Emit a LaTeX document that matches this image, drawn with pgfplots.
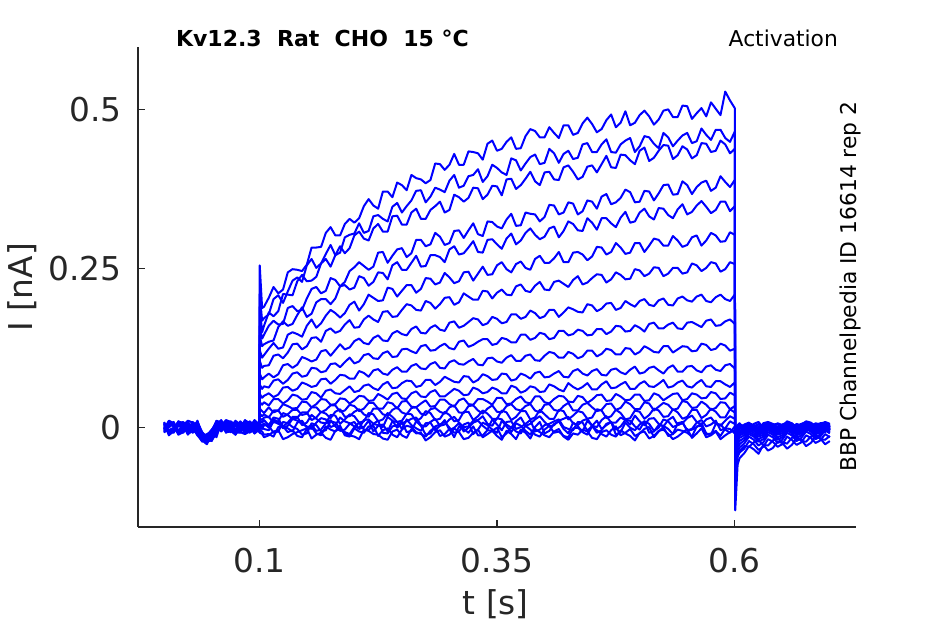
\documentclass[border=0pt]{standalone}
\usepackage{pgfplots}
\pgfplotsset{compat=1.18}
\usepackage{fontspec}
\setmainfont{DejaVu Sans}
\definecolor{cgray}{RGB}{38,38,38}
\begin{document}
\begin{tikzpicture}[x=1pt,y=1pt]
\useasboundingbox (0,0) rectangle (472.5,312);
\begin{axis}[
  at={(69pt,48.5pt)}, anchor=south west, scale only axis,
  width=359pt, height=240pt,
  xmin=-0.0275, xmax=0.7275, ymin=-0.156, ymax=0.598,
  axis x line*=bottom, axis y line*=left,
  axis line style={-, draw=cgray, line width=0.65pt},
  xtick={0.1,0.35,0.6}, xticklabels={0.1,0.35,0.6},
  ytick={0,0.25,0.5}, yticklabels={0,0.25,0.5},
  tick align=inside, major tick length=3.5pt,
  tick style={draw=cgray, line width=0.65pt},
  ticklabel style={font=\fontsize{16.4}{19}\selectfont, text=cgray, inner sep=0pt},
  xticklabel style={anchor=base, yshift=-23pt},
  yticklabel style={anchor=east, xshift=-8pt},
  tr/.style={color={rgb,255:red,0;green,0;blue,255}, line width=1pt, line join=round},
]
% T20
\addplot[tr] coordinates {(0,0.003)(0.005,-0.009)(0.01,-0.004)(0.015,0.010)(0.02,0.006)(0.025,-0.006)(0.03,-0.002)(0.035,0.007)(0.04,-0.018)(0.045,-0.014)(0.05,-0.006)(0.055,0.011)(0.06,0.008)(0.065,-0.005)(0.07,-0.003)(0.075,0.009)(0.08,0.005)(0.085,-0.010)(0.09,-0.006)(0.095,0.006)(0.1,0.002)
(0.1005,0.255)(0.103,0.188)(0.105,0.190)
(0.11,0.204)(0.115,0.221)(0.12,0.211)(0.125,0.217)(0.13,0.244)(0.135,0.249)(0.14,0.248)(0.145,0.246)(0.15,0.256)(0.155,0.283)(0.16,0.283)(0.165,0.284)(0.17,0.306)(0.175,0.315)(0.18,0.302)(0.185,0.302)(0.19,0.320)(0.195,0.328)(0.2,0.322)(0.205,0.329)
(0.21,0.348)(0.215,0.359)(0.22,0.349)(0.225,0.344)(0.23,0.371)(0.235,0.371)(0.24,0.362)(0.245,0.385)(0.25,0.381)(0.255,0.373)(0.26,0.397)(0.265,0.392)(0.27,0.390)(0.275,0.384)(0.28,0.389)(0.285,0.415)(0.29,0.414)(0.295,0.405)(0.3,0.413)(0.305,0.430)
(0.31,0.413)(0.315,0.413)(0.32,0.434)(0.325,0.433)(0.33,0.431)(0.335,0.421)(0.34,0.446)(0.345,0.451)(0.35,0.435)(0.355,0.438)(0.36,0.449)(0.365,0.456)(0.37,0.438)(0.375,0.439)(0.38,0.458)(0.385,0.469)(0.39,0.466)(0.395,0.456)(0.4,0.456)(0.405,0.472)
(0.41,0.463)(0.415,0.455)(0.42,0.475)(0.425,0.475)(0.43,0.460)(0.435,0.463)(0.44,0.478)(0.445,0.487)(0.45,0.477)(0.455,0.464)(0.46,0.469)(0.465,0.483)(0.47,0.492)(0.475,0.472)(0.48,0.479)(0.485,0.497)(0.49,0.475)(0.495,0.479)(0.5,0.491)(0.505,0.498)
(0.51,0.489)(0.515,0.476)(0.52,0.484)(0.525,0.498)(0.53,0.500)(0.535,0.488)(0.54,0.488)(0.545,0.506)(0.55,0.505)(0.555,0.485)(0.56,0.494)(0.565,0.502)(0.57,0.489)(0.575,0.511)(0.58,0.501)(0.585,0.491)(0.59,0.528)(0.595,0.514)(0.6,0.502)
(0.6005,-0.130)(0.603,-0.058)(0.605,-0.048)
(0.61,-0.040)(0.615,-0.029)(0.62,-0.034)(0.625,-0.041)(0.63,-0.027)(0.635,-0.036)(0.64,-0.032)(0.645,-0.022)(0.65,-0.024)(0.655,-0.033)(0.66,-0.027)(0.665,-0.017)(0.67,-0.019)(0.675,-0.029)(0.68,-0.024)(0.685,-0.014)(0.69,-0.017)(0.695,-0.026)(0.7,-0.021)};
% T19
\addplot[tr] coordinates {(0,-0.005)(0.005,0.008)(0.01,0.004)(0.015,-0.011)(0.02,-0.007)(0.025,0.004)(0.03,0.006)(0.035,-0.008)(0.04,-0.012)(0.045,-0.022)(0.05,-0.020)(0.055,-0.004)(0.06,0.003)(0.065,0.012)(0.07,0.009)(0.075,-0.006)(0.08,-0.004)(0.085,0.010)(0.09,0.007)(0.095,-0.009)(0.1,-0.003)
(0.1005,0.210)(0.103,0.168)(0.105,0.172)
(0.11,0.178)(0.115,0.202)(0.12,0.208)(0.125,0.196)(0.13,0.214)(0.135,0.231)(0.14,0.236)(0.145,0.229)(0.15,0.255)(0.155,0.265)(0.16,0.251)(0.165,0.258)(0.17,0.273)(0.175,0.287)(0.18,0.271)(0.185,0.275)(0.19,0.299)(0.195,0.303)(0.2,0.305)(0.205,0.321)
(0.21,0.306)(0.215,0.309)(0.22,0.332)(0.225,0.334)(0.23,0.328)(0.235,0.324)(0.24,0.347)(0.245,0.353)(0.25,0.338)(0.255,0.348)(0.26,0.357)(0.265,0.372)(0.27,0.373)(0.275,0.354)(0.28,0.363)(0.285,0.377)(0.29,0.374)(0.295,0.370)(0.3,0.388)(0.305,0.397)
(0.31,0.377)(0.315,0.380)(0.32,0.395)(0.325,0.397)(0.33,0.406)(0.335,0.386)(0.34,0.395)(0.345,0.413)(0.35,0.408)(0.355,0.401)(0.36,0.397)(0.365,0.423)(0.37,0.420)(0.375,0.404)(0.38,0.415)(0.385,0.425)(0.39,0.429)(0.395,0.414)(0.4,0.416)(0.405,0.438)
(0.41,0.431)(0.415,0.416)(0.42,0.430)(0.425,0.435)(0.43,0.422)(0.435,0.424)(0.44,0.445)(0.445,0.447)(0.45,0.433)(0.455,0.433)(0.46,0.445)(0.465,0.453)(0.47,0.433)(0.475,0.432)(0.48,0.445)(0.485,0.451)(0.49,0.455)(0.495,0.433)(0.5,0.442)(0.505,0.458)
(0.51,0.456)(0.515,0.446)(0.52,0.439)(0.525,0.463)(0.53,0.456)(0.535,0.442)(0.54,0.451)(0.545,0.459)(0.55,0.463)(0.555,0.447)(0.56,0.450)(0.565,0.470)(0.57,0.460)(0.575,0.452)(0.58,0.468)(0.585,0.468)(0.59,0.455)(0.595,0.449)(0.6,0.465)
(0.6005,-0.072)(0.603,-0.046)(0.605,-0.039)
(0.61,-0.033)(0.615,-0.021)(0.62,-0.026)(0.625,-0.035)(0.63,-0.030)(0.635,-0.018)(0.64,-0.022)(0.645,-0.030)(0.65,-0.026)(0.655,-0.014)(0.66,-0.019)(0.665,-0.027)(0.67,-0.023)(0.675,-0.012)(0.68,-0.016)(0.685,-0.024)(0.69,-0.020)(0.695,-0.010)(0.7,-0.015)};
% T18
\addplot[tr] coordinates {(0,0.006)(0.005,-0.010)(0.01,-0.002)(0.015,0.005)(0.02,0.009)(0.025,-0.004)(0.03,-0.006)(0.035,0.011)(0.04,-0.015)(0.045,-0.019)(0.05,-0.009)(0.055,0.002)(0.06,0.011)(0.065,-0.008)(0.07,-0.004)(0.075,0.007)(0.08,0.008)(0.085,-0.003)(0.09,-0.001)(0.095,0.012)(0.1,0.005)
(0.1005,0.190)(0.103,0.150)(0.105,0.160)
(0.11,0.181)(0.115,0.175)(0.12,0.183)(0.125,0.210)(0.13,0.209)(0.135,0.208)(0.14,0.230)(0.145,0.240)(0.15,0.230)(0.155,0.231)(0.16,0.237)(0.165,0.258)(0.17,0.265)(0.175,0.253)(0.18,0.271)(0.185,0.285)(0.19,0.274)(0.195,0.282)(0.2,0.302)(0.205,0.308)
(0.21,0.297)(0.215,0.294)(0.22,0.313)(0.225,0.320)(0.23,0.308)(0.235,0.308)(0.24,0.332)(0.245,0.333)(0.25,0.319)(0.255,0.319)(0.26,0.338)(0.265,0.344)(0.27,0.328)(0.275,0.328)(0.28,0.342)(0.285,0.348)(0.29,0.355)(0.295,0.338)(0.3,0.342)(0.305,0.366)
(0.31,0.362)(0.315,0.355)(0.32,0.361)(0.325,0.377)(0.33,0.376)(0.335,0.359)(0.34,0.366)(0.345,0.380)(0.35,0.379)(0.355,0.365)(0.36,0.390)(0.365,0.391)(0.37,0.375)(0.375,0.381)(0.38,0.391)(0.385,0.402)(0.39,0.387)(0.395,0.381)(0.4,0.401)(0.405,0.402)
(0.41,0.390)(0.415,0.389)(0.42,0.409)(0.425,0.412)(0.43,0.402)(0.435,0.390)(0.44,0.394)(0.445,0.410)(0.45,0.412)(0.455,0.401)(0.46,0.414)(0.465,0.427)(0.47,0.409)(0.475,0.408)(0.48,0.429)(0.485,0.428)(0.49,0.420)(0.495,0.414)(0.5,0.435)(0.505,0.440)
(0.51,0.419)(0.515,0.424)(0.52,0.435)(0.525,0.444)(0.53,0.443)(0.535,0.422)(0.54,0.428)(0.545,0.442)(0.55,0.437)(0.555,0.423)(0.56,0.428)(0.565,0.447)(0.57,0.446)(0.575,0.433)(0.58,0.435)(0.585,0.451)(0.59,0.445)(0.595,0.431)(0.6,0.438)
(0.6005,-0.066)(0.603,-0.042)(0.605,-0.036)
(0.61,-0.029)(0.615,-0.030)(0.62,-0.023)(0.625,-0.019)(0.63,-0.027)(0.635,-0.028)(0.64,-0.020)(0.645,-0.016)(0.65,-0.023)(0.655,-0.025)(0.66,-0.016)(0.665,-0.013)(0.67,-0.021)(0.675,-0.022)(0.68,-0.014)(0.685,-0.011)(0.69,-0.018)(0.695,-0.019)(0.7,-0.013)};
% T17
\addplot[tr] coordinates {(0,-0.003)(0.005,0.011)(0.01,0.007)(0.015,-0.007)(0.02,-0.005)(0.025,0.003)(0.03,0.002)(0.035,-0.012)(0.04,-0.021)(0.045,-0.013)(0.05,-0.004)(0.055,0.008)(0.06,0.006)(0.065,-0.002)(0.07,0.010)(0.075,0.004)(0.08,-0.006)(0.085,0.012)(0.09,0.003)(0.095,-0.008)(0.1,-0.002)
(0.1005,0.160)(0.103,0.140)(0.105,0.146)
(0.11,0.160)(0.115,0.168)(0.12,0.162)(0.125,0.163)(0.13,0.188)(0.135,0.191)(0.14,0.183)(0.145,0.185)(0.15,0.203)(0.155,0.218)(0.16,0.221)(0.165,0.211)(0.17,0.215)(0.175,0.235)(0.18,0.232)(0.185,0.222)(0.19,0.229)(0.195,0.246)(0.2,0.252)(0.205,0.260)
(0.21,0.254)(0.215,0.248)(0.22,0.253)(0.225,0.275)(0.23,0.276)(0.235,0.259)(0.24,0.270)(0.245,0.280)(0.25,0.282)(0.255,0.268)(0.26,0.274)(0.265,0.295)(0.27,0.295)(0.275,0.285)(0.28,0.288)(0.285,0.306)(0.29,0.300)(0.295,0.287)(0.3,0.290)(0.305,0.309)
(0.31,0.310)(0.315,0.298)(0.32,0.310)(0.325,0.321)(0.33,0.304)(0.335,0.301)(0.34,0.324)(0.345,0.323)(0.35,0.316)(0.355,0.313)(0.36,0.327)(0.365,0.336)(0.37,0.317)(0.375,0.318)(0.38,0.338)(0.385,0.336)(0.39,0.335)(0.395,0.324)(0.4,0.331)(0.405,0.350)
(0.41,0.349)(0.415,0.335)(0.42,0.338)(0.425,0.354)(0.43,0.352)(0.435,0.335)(0.44,0.340)(0.445,0.357)(0.45,0.355)(0.455,0.344)(0.46,0.363)(0.465,0.367)(0.47,0.351)(0.475,0.354)(0.48,0.361)(0.485,0.374)(0.49,0.370)(0.495,0.354)(0.5,0.355)(0.505,0.372)
(0.51,0.371)(0.515,0.357)(0.52,0.368)(0.525,0.381)(0.53,0.382)(0.535,0.366)(0.54,0.367)(0.545,0.387)(0.55,0.381)(0.555,0.367)(0.56,0.378)(0.565,0.385)(0.57,0.388)(0.575,0.372)(0.58,0.377)(0.585,0.395)(0.59,0.386)(0.595,0.378)(0.6,0.389)
(0.6005,-0.058)(0.603,-0.036)(0.605,-0.031)
(0.61,-0.025)(0.615,-0.014)(0.62,-0.019)(0.625,-0.028)(0.63,-0.023)(0.635,-0.011)(0.64,-0.015)(0.645,-0.024)(0.65,-0.019)(0.655,-0.008)(0.66,-0.012)(0.665,-0.021)(0.67,-0.016)(0.675,-0.006)(0.68,-0.010)(0.685,-0.018)(0.69,-0.014)(0.695,-0.004)(0.7,-0.009)};
% T16
\addplot[tr] coordinates {(0,0.002)(0.005,-0.009)(0.01,-0.006)(0.015,0.008)(0.02,0.004)(0.025,-0.011)(0.03,0.009)(0.035,0.003)(0.04,-0.013)(0.045,-0.017)(0.05,-0.017)(0.055,0.010)(0.06,-0.002)(0.065,0.006)(0.07,0.005)(0.075,-0.009)(0.08,0.010)(0.085,0.003)(0.09,-0.005)(0.095,0.010)(0.1,0.001)
(0.1005,0.145)(0.103,0.128)(0.105,0.131)
(0.11,0.135)(0.115,0.137)(0.12,0.158)(0.125,0.167)(0.13,0.160)(0.135,0.163)(0.14,0.177)(0.145,0.189)(0.15,0.174)(0.155,0.179)(0.16,0.197)(0.165,0.202)(0.17,0.202)(0.175,0.194)(0.18,0.203)(0.185,0.222)(0.19,0.224)(0.195,0.217)(0.2,0.220)(0.205,0.238)
(0.21,0.235)(0.215,0.223)(0.22,0.229)(0.225,0.244)(0.23,0.243)(0.235,0.233)(0.24,0.255)(0.245,0.260)(0.25,0.248)(0.255,0.248)(0.26,0.259)(0.265,0.270)(0.27,0.253)(0.275,0.254)(0.28,0.271)(0.285,0.271)(0.29,0.268)(0.295,0.260)(0.3,0.280)(0.305,0.285)
(0.31,0.272)(0.315,0.274)(0.32,0.283)(0.325,0.293)(0.33,0.276)(0.335,0.275)(0.34,0.295)(0.345,0.296)(0.35,0.288)(0.355,0.281)(0.36,0.297)(0.365,0.305)(0.37,0.288)(0.375,0.294)(0.38,0.306)(0.385,0.313)(0.39,0.303)(0.395,0.296)(0.4,0.300)(0.405,0.313)
(0.41,0.316)(0.415,0.299)(0.42,0.309)(0.425,0.324)(0.43,0.320)(0.435,0.310)(0.44,0.309)(0.445,0.329)(0.45,0.322)(0.455,0.311)(0.46,0.329)(0.465,0.329)(0.47,0.321)(0.475,0.315)(0.48,0.330)(0.485,0.339)(0.49,0.322)(0.495,0.324)(0.5,0.338)(0.505,0.344)
(0.51,0.332)(0.515,0.327)(0.52,0.345)(0.525,0.344)(0.53,0.334)(0.535,0.329)(0.54,0.343)(0.545,0.351)(0.55,0.335)(0.555,0.339)(0.56,0.349)(0.565,0.356)(0.57,0.347)(0.575,0.337)(0.58,0.342)(0.585,0.355)(0.59,0.355)(0.595,0.340)(0.6,0.348)
(0.6005,-0.052)(0.603,-0.031)(0.605,-0.026)
(0.61,-0.020)(0.615,-0.010)(0.62,-0.014)(0.625,-0.022)(0.63,-0.018)(0.635,-0.007)(0.64,-0.011)(0.645,-0.019)(0.65,-0.015)(0.655,-0.004)(0.66,-0.009)(0.665,-0.016)(0.67,-0.012)(0.675,-0.002)(0.68,-0.006)(0.685,-0.014)(0.69,-0.011)(0.695,-0.001)(0.7,-0.007)};
% T15
\addplot[tr] coordinates {(0,-0.007)(0.005,0.006)(0.01,0.003)(0.015,-0.010)(0.02,0.001)(0.025,0.009)(0.03,-0.008)(0.035,-0.002)(0.04,-0.010)(0.045,-0.020)(0.05,-0.014)(0.055,-0.006)(0.06,0.007)(0.065,0.000)(0.07,-0.001)(0.075,0.011)(0.08,0.004)(0.085,-0.008)(0.09,0.009)(0.095,0.002)(0.1,-0.004)
(0.1005,0.122)(0.103,0.110)(0.105,0.114)
(0.11,0.124)(0.115,0.133)(0.12,0.124)(0.125,0.126)(0.13,0.146)(0.135,0.150)(0.14,0.147)(0.145,0.143)(0.15,0.160)(0.155,0.170)(0.16,0.157)(0.165,0.164)(0.17,0.176)(0.175,0.185)(0.18,0.180)(0.185,0.173)(0.19,0.180)(0.195,0.193)(0.2,0.198)(0.205,0.184)
(0.21,0.194)(0.215,0.209)(0.22,0.204)(0.225,0.199)(0.23,0.200)(0.235,0.220)(0.24,0.218)(0.245,0.206)(0.25,0.215)(0.255,0.224)(0.26,0.224)(0.265,0.212)(0.27,0.218)(0.275,0.235)(0.28,0.234)(0.285,0.225)(0.29,0.228)(0.295,0.243)(0.3,0.236)(0.305,0.227)
(0.31,0.230)(0.315,0.244)(0.32,0.245)(0.325,0.231)(0.33,0.242)(0.335,0.253)(0.34,0.240)(0.345,0.241)(0.35,0.255)(0.355,0.260)(0.36,0.249)(0.365,0.244)(0.37,0.257)(0.375,0.261)(0.38,0.251)(0.385,0.248)(0.39,0.265)(0.395,0.270)(0.4,0.259)(0.405,0.259)
(0.41,0.266)(0.415,0.276)(0.42,0.260)(0.425,0.260)(0.43,0.275)(0.435,0.276)(0.44,0.272)(0.445,0.263)(0.45,0.269)(0.455,0.284)(0.46,0.283)(0.465,0.272)(0.47,0.276)(0.475,0.290)(0.48,0.283)(0.485,0.273)(0.49,0.275)(0.495,0.290)(0.5,0.290)(0.505,0.276)
(0.51,0.286)(0.515,0.297)(0.52,0.295)(0.525,0.286)(0.53,0.286)(0.535,0.301)(0.54,0.294)(0.545,0.284)(0.55,0.287)(0.555,0.299)(0.56,0.302)(0.565,0.286)(0.57,0.294)(0.575,0.306)(0.58,0.302)(0.585,0.292)(0.59,0.293)(0.595,0.307)(0.6,0.303)
(0.6005,-0.046)(0.603,-0.026)(0.605,-0.021)
(0.61,-0.016)(0.615,-0.007)(0.62,-0.011)(0.625,-0.018)(0.63,-0.014)(0.635,-0.004)(0.64,-0.008)(0.645,-0.015)(0.65,-0.012)(0.655,-0.002)(0.66,-0.006)(0.665,-0.012)(0.67,-0.009)(0.675,0.001)(0.68,-0.004)(0.685,-0.010)(0.69,-0.008)(0.695,0.002)(0.7,-0.005)};
% T14
\addplot[tr] coordinates {(0,0.005)(0.005,-0.004)(0.01,0.000)(0.015,0.009)(0.02,-0.006)(0.025,0.002)(0.03,0.004)(0.035,-0.009)(0.04,-0.016)(0.045,-0.012)(0.05,-0.011)(0.055,0.005)(0.06,0.012)(0.065,-0.003)(0.07,0.002)(0.075,0.010)(0.08,-0.007)(0.085,-0.010)(0.09,0.004)(0.095,0.000)(0.1,0.006)
(0.1005,0.105)(0.103,0.094)(0.105,0.097)
(0.11,0.098)(0.115,0.113)(0.12,0.115)(0.125,0.109)(0.13,0.118)(0.135,0.131)(0.14,0.132)(0.145,0.123)(0.15,0.128)(0.155,0.141)(0.16,0.142)(0.165,0.135)(0.17,0.152)(0.175,0.156)(0.18,0.149)(0.185,0.152)(0.19,0.162)(0.195,0.169)(0.2,0.157)(0.205,0.158)
(0.21,0.170)(0.215,0.176)(0.22,0.170)(0.225,0.166)(0.23,0.182)(0.235,0.183)(0.24,0.174)(0.245,0.175)(0.25,0.185)(0.255,0.194)(0.26,0.192)(0.265,0.185)(0.27,0.184)(0.275,0.199)(0.28,0.196)(0.285,0.187)(0.29,0.194)(0.295,0.204)(0.3,0.205)(0.305,0.193)
(0.31,0.197)(0.315,0.211)(0.32,0.206)(0.325,0.201)(0.33,0.201)(0.335,0.215)(0.34,0.214)(0.345,0.203)(0.35,0.212)(0.355,0.217)(0.36,0.209)(0.365,0.208)(0.37,0.222)(0.375,0.225)(0.38,0.215)(0.385,0.213)(0.39,0.223)(0.395,0.229)(0.4,0.217)(0.405,0.216)
(0.41,0.229)(0.415,0.231)(0.42,0.226)(0.425,0.221)(0.43,0.232)(0.435,0.238)(0.44,0.225)(0.445,0.228)(0.45,0.235)(0.455,0.241)(0.46,0.240)(0.465,0.228)(0.47,0.233)(0.475,0.244)(0.48,0.240)(0.485,0.233)(0.49,0.234)(0.495,0.249)(0.5,0.247)(0.505,0.238)
(0.51,0.242)(0.515,0.252)(0.52,0.251)(0.525,0.238)(0.53,0.242)(0.535,0.251)(0.54,0.251)(0.545,0.242)(0.55,0.244)(0.555,0.258)(0.56,0.255)(0.565,0.246)(0.57,0.251)(0.575,0.260)(0.58,0.258)(0.585,0.245)(0.59,0.249)(0.595,0.260)(0.6,0.257)
(0.6005,-0.040)(0.603,-0.022)(0.605,-0.016)
(0.61,-0.012)(0.615,-0.004)(0.62,-0.008)(0.625,-0.014)(0.63,-0.011)(0.635,-0.002)(0.64,-0.005)(0.645,-0.011)(0.65,-0.009)(0.655,0.001)(0.66,-0.003)(0.665,-0.009)(0.67,-0.007)(0.675,0.002)(0.68,-0.002)(0.685,-0.008)(0.69,-0.006)(0.695,0.003)(0.7,-0.003)};
% T13
\addplot[tr] coordinates {(0,-0.001)(0.005,0.005)(0.01,0.008)(0.015,-0.008)(0.02,-0.003)(0.025,0.010)(0.03,-0.007)(0.035,0.001)(0.04,-0.012)(0.045,-0.016)(0.05,-0.008)(0.055,-0.002)(0.06,0.004)(0.065,0.008)(0.07,-0.005)(0.075,-0.011)(0.08,0.002)(0.085,0.006)(0.09,0.008)(0.095,-0.004)(0.1,-0.006)
(0.1005,0.085)(0.103,0.076)(0.105,0.079)
(0.11,0.085)(0.115,0.079)(0.12,0.084)(0.125,0.098)(0.13,0.100)(0.135,0.094)(0.14,0.099)(0.145,0.111)(0.15,0.108)(0.155,0.104)(0.16,0.107)(0.165,0.120)(0.17,0.122)(0.175,0.113)(0.18,0.122)(0.185,0.131)(0.19,0.123)(0.195,0.126)(0.2,0.136)(0.205,0.140)
(0.21,0.133)(0.215,0.131)(0.22,0.141)(0.225,0.145)(0.23,0.137)(0.235,0.136)(0.24,0.148)(0.245,0.152)(0.25,0.147)(0.255,0.145)(0.26,0.155)(0.265,0.159)(0.27,0.149)(0.275,0.148)(0.28,0.157)(0.285,0.161)(0.29,0.154)(0.295,0.152)(0.3,0.165)(0.305,0.167)
(0.31,0.157)(0.315,0.160)(0.32,0.166)(0.325,0.172)(0.33,0.170)(0.335,0.161)(0.34,0.164)(0.345,0.174)(0.35,0.171)(0.355,0.164)(0.36,0.166)(0.365,0.178)(0.37,0.178)(0.375,0.171)(0.38,0.174)(0.385,0.184)(0.39,0.180)(0.395,0.172)(0.4,0.175)(0.405,0.185)
(0.41,0.185)(0.415,0.174)(0.42,0.181)(0.425,0.189)(0.43,0.186)(0.435,0.182)(0.44,0.181)(0.445,0.194)(0.45,0.192)(0.455,0.183)(0.46,0.187)(0.465,0.195)(0.47,0.196)(0.475,0.185)(0.48,0.188)(0.485,0.199)(0.49,0.194)(0.495,0.190)(0.5,0.199)(0.505,0.202)
(0.51,0.193)(0.515,0.191)(0.52,0.200)(0.525,0.203)(0.53,0.193)(0.535,0.192)(0.54,0.203)(0.545,0.206)(0.55,0.200)(0.555,0.198)(0.56,0.206)(0.565,0.209)(0.57,0.199)(0.575,0.197)(0.58,0.205)(0.585,0.209)(0.59,0.202)(0.595,0.199)(0.6,0.209)
(0.6005,-0.032)(0.603,-0.017)(0.605,-0.012)
(0.61,-0.009)(0.615,-0.001)(0.62,-0.004)(0.625,-0.011)(0.63,-0.008)(0.635,0.002)(0.64,-0.002)(0.645,-0.008)(0.65,-0.006)(0.655,0.003)(0.66,0.000)(0.665,-0.006)(0.67,-0.004)(0.675,0.004)(0.68,0.001)(0.685,-0.005)(0.69,-0.003)(0.695,0.005)(0.7,0.000)};
% T12
\addplot[tr] coordinates {(0,0.008)(0.005,-0.007)(0.01,-0.003)(0.015,0.004)(0.02,0.005)(0.025,-0.001)(0.03,-0.004)(0.035,0.008)(0.04,-0.009)(0.045,-0.018)(0.05,-0.019)(0.055,-0.009)(0.06,0.001)(0.065,0.011)(0.07,0.007)(0.075,-0.002)(0.08,-0.003)(0.085,0.005)(0.09,-0.008)(0.095,0.009)(0.1,0.003)
(0.1005,0.068)(0.103,0.061)(0.105,0.065)
(0.11,0.063)(0.115,0.074)(0.12,0.076)(0.125,0.069)(0.13,0.075)(0.135,0.085)(0.14,0.087)(0.145,0.080)(0.15,0.082)(0.155,0.094)(0.16,0.093)(0.165,0.087)(0.17,0.089)(0.175,0.100)(0.18,0.101)(0.185,0.095)(0.19,0.103)(0.195,0.110)(0.2,0.101)(0.205,0.104)
(0.21,0.114)(0.215,0.116)(0.22,0.109)(0.225,0.108)(0.23,0.117)(0.235,0.120)(0.24,0.111)(0.245,0.112)(0.25,0.123)(0.255,0.124)(0.26,0.120)(0.265,0.117)(0.27,0.128)(0.275,0.130)(0.28,0.121)(0.285,0.122)(0.29,0.128)(0.295,0.132)(0.3,0.125)(0.305,0.123)
(0.31,0.135)(0.315,0.137)(0.32,0.127)(0.325,0.130)(0.33,0.135)(0.335,0.139)(0.34,0.139)(0.345,0.130)(0.35,0.132)(0.355,0.141)(0.36,0.139)(0.365,0.134)(0.37,0.134)(0.375,0.146)(0.38,0.146)(0.385,0.138)(0.39,0.141)(0.395,0.149)(0.4,0.147)(0.405,0.139)
(0.41,0.141)(0.415,0.152)(0.42,0.152)(0.425,0.145)(0.43,0.147)(0.435,0.154)(0.44,0.152)(0.445,0.145)(0.45,0.146)(0.455,0.155)(0.46,0.155)(0.465,0.147)(0.47,0.151)(0.475,0.160)(0.48,0.159)(0.485,0.151)(0.49,0.152)(0.495,0.161)(0.5,0.157)(0.505,0.151)
(0.51,0.163)(0.515,0.165)(0.52,0.156)(0.525,0.156)(0.53,0.162)(0.535,0.165)(0.54,0.156)(0.545,0.155)(0.55,0.165)(0.555,0.166)(0.56,0.162)(0.565,0.158)(0.57,0.168)(0.575,0.170)(0.58,0.160)(0.585,0.161)(0.59,0.167)(0.595,0.170)(0.6,0.163)
(0.6005,-0.025)(0.603,-0.013)(0.605,-0.009)
(0.61,-0.006)(0.615,0.002)(0.62,-0.001)(0.625,-0.007)(0.63,-0.005)(0.635,0.004)(0.64,0.002)(0.645,-0.006)(0.65,-0.003)(0.655,0.005)(0.66,0.003)(0.665,-0.004)(0.67,-0.002)(0.675,0.006)(0.68,0.004)(0.685,-0.003)(0.69,-0.001)(0.695,0.006)(0.7,0.002)};
% T11
\addplot[tr] coordinates {(0,-0.006)(0.005,0.003)(0.01,0.005)(0.015,-0.009)(0.02,0.008)(0.025,0.006)(0.03,-0.002)(0.035,-0.005)(0.04,-0.014)(0.045,-0.010)(0.05,-0.006)(0.055,0.004)(0.06,0.009)(0.065,-0.007)(0.07,-0.006)(0.075,0.008)(0.08,0.006)(0.085,-0.004)(0.09,0.001)(0.095,0.011)(0.1,-0.007)
(0.1005,0.053)(0.103,0.047)(0.105,0.050)
(0.11,0.054)(0.115,0.048)(0.12,0.052)(0.125,0.063)(0.13,0.064)(0.135,0.058)(0.14,0.061)(0.145,0.071)(0.15,0.068)(0.155,0.064)(0.16,0.066)(0.165,0.076)(0.17,0.077)(0.175,0.069)(0.18,0.075)(0.185,0.083)(0.19,0.082)(0.195,0.077)(0.2,0.077)(0.205,0.089)
(0.21,0.086)(0.215,0.080)(0.22,0.090)(0.225,0.092)(0.23,0.085)(0.235,0.083)(0.24,0.091)(0.245,0.095)(0.25,0.088)(0.255,0.088)(0.26,0.097)(0.265,0.100)(0.27,0.093)(0.275,0.092)(0.28,0.100)(0.285,0.103)(0.29,0.094)(0.295,0.093)(0.3,0.103)(0.305,0.106)
(0.31,0.100)(0.315,0.099)(0.32,0.104)(0.325,0.108)(0.33,0.099)(0.335,0.098)(0.34,0.109)(0.345,0.110)(0.35,0.104)(0.355,0.102)(0.36,0.110)(0.365,0.114)(0.37,0.105)(0.375,0.105)(0.38,0.113)(0.385,0.115)(0.39,0.106)(0.395,0.105)(0.4,0.113)(0.405,0.119)
(0.41,0.117)(0.415,0.110)(0.42,0.110)(0.425,0.119)(0.43,0.116)(0.435,0.109)(0.44,0.112)(0.445,0.121)(0.45,0.121)(0.455,0.112)(0.46,0.116)(0.465,0.124)(0.47,0.122)(0.475,0.115)(0.48,0.115)(0.485,0.125)(0.49,0.124)(0.495,0.115)(0.5,0.119)(0.505,0.128)
(0.51,0.124)(0.515,0.119)(0.52,0.118)(0.525,0.128)(0.53,0.128)(0.535,0.118)(0.54,0.123)(0.545,0.128)(0.55,0.127)(0.555,0.120)(0.56,0.121)(0.565,0.132)(0.57,0.130)(0.575,0.122)(0.58,0.124)(0.585,0.132)(0.59,0.129)(0.595,0.121)(0.6,0.124)
(0.6005,-0.020)(0.603,-0.010)(0.605,-0.007)
(0.61,-0.004)(0.615,0.004)(0.62,0.001)(0.625,-0.005)(0.63,-0.003)(0.635,0.006)(0.64,0.004)(0.645,-0.003)(0.65,-0.001)(0.655,0.007)(0.66,0.005)(0.665,-0.002)(0.67,0.000)(0.675,0.008)(0.68,0.006)(0.685,-0.001)(0.69,0.001)(0.695,0.007)(0.7,0.004)};
% T10
\addplot[tr] coordinates {(0,0.004)(0.005,-0.005)(0.01,-0.007)(0.015,0.010)(0.02,0.002)(0.025,-0.003)(0.03,0.007)(0.035,0.000)(0.04,-0.008)(0.045,-0.014)(0.05,-0.013)(0.055,-0.001)(0.06,-0.004)(0.065,0.007)(0.07,0.006)(0.075,-0.008)(0.08,0.001)(0.085,0.011)(0.09,-0.004)(0.095,0.002)(0.1,0.008)
(0.1005,0.040)(0.103,0.036)(0.105,0.040)
(0.11,0.035)(0.115,0.045)(0.12,0.045)(0.125,0.038)(0.13,0.043)(0.135,0.052)(0.14,0.050)(0.145,0.044)(0.15,0.045)(0.155,0.056)(0.16,0.054)(0.165,0.047)(0.17,0.058)(0.175,0.060)(0.18,0.054)(0.185,0.053)(0.19,0.059)(0.195,0.065)(0.2,0.056)(0.205,0.058)
(0.21,0.066)(0.215,0.068)(0.22,0.062)(0.225,0.059)(0.23,0.068)(0.235,0.072)(0.24,0.062)(0.245,0.063)(0.25,0.070)(0.255,0.074)(0.26,0.073)(0.265,0.064)(0.27,0.066)(0.275,0.075)(0.28,0.075)(0.285,0.067)(0.29,0.072)(0.295,0.080)(0.3,0.076)(0.305,0.072)
(0.31,0.071)(0.315,0.081)(0.32,0.080)(0.325,0.071)(0.33,0.075)(0.335,0.084)(0.34,0.081)(0.345,0.075)(0.35,0.076)(0.355,0.085)(0.36,0.084)(0.365,0.074)(0.37,0.076)(0.375,0.085)(0.38,0.082)(0.385,0.077)(0.39,0.086)(0.395,0.088)(0.4,0.079)(0.405,0.080)
(0.41,0.085)(0.415,0.089)(0.42,0.080)(0.425,0.079)(0.43,0.089)(0.435,0.092)(0.44,0.085)(0.445,0.082)(0.45,0.089)(0.455,0.092)(0.46,0.083)(0.465,0.082)(0.47,0.091)(0.475,0.093)(0.48,0.087)(0.485,0.084)(0.49,0.091)(0.495,0.096)(0.5,0.085)(0.505,0.087)
(0.51,0.094)(0.515,0.096)(0.52,0.090)(0.525,0.085)(0.53,0.094)(0.535,0.098)(0.54,0.088)(0.545,0.088)(0.55,0.096)(0.555,0.097)(0.56,0.090)(0.565,0.087)(0.57,0.096)(0.575,0.098)(0.58,0.091)(0.585,0.089)(0.59,0.098)(0.595,0.100)(0.6,0.093)
(0.6005,-0.016)(0.603,-0.007)(0.605,-0.005)
(0.61,-0.002)(0.615,0.005)(0.62,0.003)(0.625,-0.003)(0.63,-0.001)(0.635,0.008)(0.64,0.005)(0.645,-0.001)(0.65,0.001)(0.655,0.009)(0.66,0.006)(0.665,0.000)(0.67,0.002)(0.675,0.009)(0.68,0.007)(0.685,0.001)(0.69,0.003)(0.695,0.008)(0.7,0.005)};
% T9
\addplot[tr] coordinates {(0,-0.002)(0.005,0.009)(0.01,0.006)(0.015,-0.004)(0.02,-0.008)(0.025,0.001)(0.03,0.003)(0.035,-0.010)(0.04,-0.019)(0.045,-0.012)(0.05,-0.003)(0.055,0.007)(0.06,0.005)(0.065,-0.006)(0.07,-0.002)(0.075,0.003)(0.08,0.009)(0.085,-0.009)(0.09,-0.003)(0.095,0.005)(0.1,0.000)
(0.1005,0.030)(0.103,0.026)(0.105,0.023)
(0.11,0.032)(0.115,0.024)(0.12,0.027)(0.125,0.037)(0.13,0.034)(0.135,0.030)(0.14,0.031)(0.145,0.041)(0.15,0.040)(0.155,0.032)(0.16,0.037)(0.165,0.045)(0.17,0.044)(0.175,0.036)(0.18,0.037)(0.185,0.046)(0.19,0.045)(0.195,0.038)(0.2,0.043)(0.205,0.050)
(0.21,0.049)(0.215,0.042)(0.22,0.043)(0.225,0.053)(0.23,0.049)(0.235,0.044)(0.24,0.053)(0.245,0.055)(0.25,0.046)(0.255,0.045)(0.26,0.054)(0.265,0.057)(0.27,0.049)(0.275,0.048)(0.28,0.056)(0.285,0.059)(0.29,0.049)(0.295,0.049)(0.3,0.055)(0.305,0.061)
(0.31,0.058)(0.315,0.051)(0.32,0.052)(0.325,0.063)(0.33,0.060)(0.335,0.054)(0.34,0.056)(0.345,0.063)(0.35,0.060)(0.355,0.054)(0.36,0.054)(0.365,0.066)(0.37,0.063)(0.375,0.055)(0.38,0.058)(0.385,0.065)(0.39,0.063)(0.395,0.056)(0.4,0.057)(0.405,0.068)
(0.41,0.065)(0.415,0.060)(0.42,0.057)(0.425,0.070)(0.43,0.064)(0.435,0.060)(0.44,0.064)(0.445,0.070)(0.45,0.060)(0.455,0.060)(0.46,0.068)(0.465,0.073)(0.47,0.062)(0.475,0.063)(0.48,0.068)(0.485,0.072)(0.49,0.061)(0.495,0.061)(0.5,0.069)(0.505,0.073)
(0.51,0.065)(0.515,0.064)(0.52,0.069)(0.525,0.075)(0.53,0.063)(0.535,0.065)(0.54,0.071)(0.545,0.074)(0.55,0.065)(0.555,0.063)(0.56,0.070)(0.565,0.075)(0.57,0.065)(0.575,0.064)(0.58,0.073)(0.585,0.073)(0.59,0.068)(0.595,0.064)(0.6,0.071)
(0.6005,-0.012)(0.603,-0.005)(0.605,-0.002)
(0.61,0.000)(0.615,0.007)(0.62,0.004)(0.625,-0.001)(0.63,0.001)(0.635,0.009)(0.64,0.006)(0.645,0.000)(0.65,0.002)(0.655,0.010)(0.66,0.007)(0.665,0.001)(0.67,0.003)(0.675,0.010)(0.68,0.008)(0.685,0.002)(0.69,0.004)(0.695,0.009)(0.7,0.006)};
% T8
\addplot[tr] coordinates {(0,0.007)(0.005,-0.011)(0.01,-0.001)(0.015,0.006)(0.02,-0.005)(0.025,0.002)(0.03,0.006)(0.035,-0.006)(0.04,-0.011)(0.045,-0.019)(0.05,-0.016)(0.055,0.003)(0.06,0.008)(0.065,-0.002)(0.07,0.001)(0.075,0.009)(0.08,-0.005)(0.085,0.001)(0.09,0.006)(0.095,-0.009)(0.1,-0.002)
(0.1005,0.022)(0.103,0.018)(0.105,0.021)
(0.11,0.016)(0.115,0.027)(0.12,0.027)(0.125,0.017)(0.13,0.021)(0.135,0.028)(0.14,0.028)(0.145,0.020)(0.15,0.022)(0.155,0.032)(0.16,0.032)(0.165,0.024)(0.17,0.028)(0.175,0.035)(0.18,0.035)(0.185,0.025)(0.19,0.027)(0.195,0.036)(0.2,0.034)(0.205,0.026)
(0.21,0.030)(0.215,0.039)(0.22,0.039)(0.225,0.030)(0.23,0.030)(0.235,0.040)(0.24,0.038)(0.245,0.030)(0.25,0.041)(0.255,0.042)(0.26,0.033)(0.265,0.032)(0.27,0.038)(0.275,0.043)(0.28,0.033)(0.285,0.034)(0.29,0.044)(0.295,0.044)(0.3,0.037)(0.305,0.033)
(0.31,0.043)(0.315,0.046)(0.32,0.037)(0.325,0.036)(0.33,0.045)(0.335,0.045)(0.34,0.041)(0.345,0.036)(0.35,0.047)(0.355,0.047)(0.36,0.037)(0.365,0.038)(0.37,0.045)(0.375,0.049)(0.38,0.040)(0.385,0.038)(0.39,0.049)(0.395,0.049)(0.4,0.040)(0.405,0.038)
(0.41,0.045)(0.415,0.050)(0.42,0.049)(0.425,0.041)(0.43,0.040)(0.435,0.050)(0.44,0.048)(0.445,0.039)(0.45,0.044)(0.455,0.051)(0.46,0.052)(0.465,0.042)(0.47,0.043)(0.475,0.053)(0.48,0.049)(0.485,0.043)(0.49,0.044)(0.495,0.052)(0.5,0.052)(0.505,0.042)
(0.51,0.043)(0.515,0.054)(0.52,0.051)(0.525,0.043)(0.53,0.048)(0.535,0.053)(0.54,0.054)(0.545,0.043)(0.55,0.045)(0.555,0.054)(0.56,0.052)(0.565,0.046)(0.57,0.047)(0.575,0.056)(0.58,0.054)(0.585,0.045)(0.59,0.046)(0.595,0.055)(0.6,0.051)
(0.6005,-0.010)(0.603,-0.003)(0.605,0.000)
(0.61,0.002)(0.615,0.006)(0.62,-0.002)(0.625,0.001)(0.63,0.004)(0.635,0.007)(0.64,0.000)(0.645,0.002)(0.65,0.005)(0.655,0.008)(0.66,0.001)(0.665,0.003)(0.67,0.006)(0.675,0.009)(0.68,0.002)(0.685,0.004)(0.69,0.007)(0.695,0.008)(0.7,0.003)};
% T7
\addplot[tr] coordinates {(0,-0.004)(0.005,0.007)(0.01,0.002)(0.015,-0.006)(0.02,0.007)(0.025,-0.010)(0.03,-0.005)(0.035,0.009)(0.04,-0.007)(0.045,-0.016)(0.05,-0.012)(0.055,-0.001)(0.06,0.002)(0.065,0.010)(0.07,0.008)(0.075,-0.004)(0.08,-0.002)(0.085,0.008)(0.09,-0.006)(0.095,0.001)(0.1,0.004)
(0.1005,0.015)(0.103,0.012)(0.105,0.016)
(0.11,0.017)(0.115,0.008)(0.12,0.010)(0.125,0.023)(0.13,0.020)(0.135,0.013)(0.14,0.016)(0.145,0.024)(0.15,0.024)(0.155,0.012)(0.16,0.016)(0.165,0.025)(0.17,0.022)(0.175,0.015)(0.18,0.025)(0.185,0.029)(0.19,0.017)(0.195,0.018)(0.2,0.025)(0.205,0.029)
(0.21,0.021)(0.215,0.017)(0.22,0.030)(0.225,0.030)(0.23,0.021)(0.235,0.019)(0.24,0.028)(0.245,0.032)(0.25,0.024)(0.255,0.021)(0.26,0.031)(0.265,0.032)(0.27,0.022)(0.275,0.020)(0.28,0.029)(0.285,0.031)(0.29,0.025)(0.295,0.022)(0.3,0.032)(0.305,0.035)
(0.31,0.024)(0.315,0.023)(0.32,0.034)(0.325,0.035)(0.33,0.027)(0.335,0.022)(0.34,0.030)(0.345,0.035)(0.35,0.025)(0.355,0.024)(0.36,0.034)(0.365,0.037)(0.37,0.029)(0.375,0.027)(0.38,0.034)(0.385,0.037)(0.39,0.027)(0.395,0.024)(0.4,0.036)(0.405,0.037)
(0.41,0.028)(0.415,0.026)(0.42,0.034)(0.425,0.039)(0.43,0.027)(0.435,0.027)(0.44,0.036)(0.445,0.039)(0.45,0.032)(0.455,0.026)(0.46,0.028)(0.465,0.037)(0.47,0.038)(0.475,0.028)(0.48,0.031)(0.485,0.041)(0.49,0.037)(0.495,0.029)(0.5,0.029)(0.505,0.040)
(0.51,0.038)(0.515,0.027)(0.52,0.033)(0.525,0.039)(0.53,0.036)(0.535,0.028)(0.54,0.030)(0.545,0.042)(0.55,0.040)(0.555,0.031)(0.56,0.032)(0.565,0.041)(0.57,0.036)(0.575,0.028)(0.58,0.031)(0.585,0.040)(0.59,0.039)(0.595,0.029)(0.6,0.034)
(0.6005,-0.008)(0.603,-0.002)(0.605,0.005)
(0.61,0.003)(0.615,-0.004)(0.62,-0.003)(0.625,0.006)(0.63,0.002)(0.635,-0.003)(0.64,-0.001)(0.645,0.007)(0.65,0.004)(0.655,-0.001)(0.66,-0.002)(0.665,0.006)(0.67,0.003)(0.675,-0.002)(0.68,0.000)(0.685,0.007)(0.69,0.005)(0.695,0.000)(0.7,0.001)};
% T6
\addplot[tr] coordinates {(0,0.001)(0.005,-0.006)(0.01,-0.008)(0.015,0.003)(0.02,0.004)(0.025,0.011)(0.03,0.008)(0.035,-0.004)(0.04,-0.015)(0.045,-0.021)(0.05,-0.007)(0.055,0.006)(0.06,-0.005)(0.065,0.001)(0.07,0.004)(0.075,-0.010)(0.08,0.007)(0.085,0.000)(0.09,-0.002)(0.095,0.008)(0.1,0.005)
(0.1005,0.010)(0.103,0.008)(0.105,0.012)
(0.11,0.004)(0.115,0.016)(0.12,0.014)(0.125,0.002)(0.13,0.008)(0.135,0.017)(0.14,0.017)(0.145,0.004)(0.15,0.008)(0.155,0.020)(0.16,0.014)(0.165,0.008)(0.17,0.007)(0.175,0.020)(0.18,0.019)(0.185,0.006)(0.19,0.013)(0.195,0.021)(0.2,0.018)(0.205,0.008)
(0.21,0.010)(0.215,0.023)(0.22,0.021)(0.225,0.010)(0.23,0.013)(0.235,0.023)(0.24,0.017)(0.245,0.009)(0.25,0.011)(0.255,0.022)(0.26,0.021)(0.265,0.010)(0.27,0.015)(0.275,0.026)(0.28,0.023)(0.285,0.012)(0.29,0.014)(0.295,0.025)(0.3,0.020)(0.305,0.010)
(0.31,0.012)(0.315,0.025)(0.32,0.025)(0.325,0.012)(0.33,0.018)(0.335,0.027)(0.34,0.022)(0.345,0.014)(0.35,0.014)(0.355,0.027)(0.36,0.024)(0.365,0.012)(0.37,0.017)(0.375,0.026)(0.38,0.026)(0.385,0.013)(0.39,0.016)(0.395,0.028)(0.4,0.021)(0.405,0.014)
(0.41,0.014)(0.415,0.028)(0.42,0.026)(0.425,0.013)(0.43,0.019)(0.435,0.026)(0.44,0.024)(0.445,0.014)(0.45,0.016)(0.455,0.029)(0.46,0.027)(0.465,0.015)(0.47,0.018)(0.475,0.028)(0.48,0.023)(0.485,0.013)(0.49,0.015)(0.495,0.027)(0.5,0.025)(0.505,0.014)
(0.51,0.020)(0.515,0.030)(0.52,0.027)(0.525,0.017)(0.53,0.018)(0.535,0.029)(0.54,0.024)(0.545,0.014)(0.55,0.017)(0.555,0.028)(0.56,0.028)(0.565,0.015)(0.57,0.020)(0.575,0.030)(0.58,0.025)(0.585,0.016)(0.59,0.016)(0.595,0.029)(0.6,0.024)
(0.6005,-0.006)(0.603,0.000)(0.605,0.004)
(0.61,-0.004)(0.615,-0.006)(0.62,0.003)(0.625,0.005)(0.63,-0.002)(0.635,-0.004)(0.64,0.005)(0.645,0.006)(0.65,-0.003)(0.655,-0.005)(0.66,0.002)(0.665,0.005)(0.67,-0.001)(0.675,-0.003)(0.68,0.004)(0.685,0.006)(0.69,-0.002)(0.695,-0.004)(0.7,0.003)};
% T5
\addplot[tr] coordinates {(0,0.005)(0.005,0.000)(0.01,0.009)(0.015,-0.007)(0.02,-0.004)(0.025,0.005)(0.03,0.001)(0.035,0.010)(0.04,-0.010)(0.045,-0.015)(0.05,-0.021)(0.055,-0.005)(0.06,0.010)(0.065,-0.004)(0.07,-0.003)(0.075,0.006)(0.08,0.004)(0.085,-0.006)(0.09,0.010)(0.095,0.003)(0.1,-0.005)
(0.1005,0.006)(0.103,0.004)(0.105,0.007)
(0.11,0.000)(0.115,0.013)(0.12,0.009)(0.125,-0.001)(0.13,0.003)(0.135,0.014)(0.14,0.011)(0.145,0.006)(0.15,0.002)(0.155,-0.002)(0.16,0.008)(0.165,0.015)(0.17,0.013)(0.175,0.001)(0.18,0.004)(0.185,0.016)(0.19,0.010)(0.195,0.007)(0.2,0.002)(0.205,-0.001)
(0.21,0.012)(0.215,0.013)(0.22,0.006)(0.225,0.004)(0.23,0.001)(0.235,0.017)(0.24,0.011)(0.245,0.000)(0.25,0.007)(0.255,0.010)(0.26,0.014)(0.265,0.016)(0.27,0.004)(0.275,0.002)(0.28,0.009)(0.285,0.014)(0.29,0.003)(0.295,0.005)(0.3,0.013)(0.305,0.017)
(0.31,0.008)(0.315,0.001)(0.32,0.002)(0.325,0.011)(0.33,0.012)(0.335,0.018)(0.34,0.006)(0.345,0.003)(0.35,0.015)(0.355,0.013)(0.36,0.005)(0.365,0.000)(0.37,0.010)(0.375,0.016)(0.38,0.003)(0.385,0.006)(0.39,0.013)(0.395,0.018)(0.4,0.009)(0.405,0.002)
(0.41,0.004)(0.415,0.011)(0.42,0.014)(0.425,0.017)(0.43,0.007)(0.435,0.004)(0.44,0.011)(0.445,0.014)(0.45,0.003)(0.455,0.001)(0.46,0.012)(0.465,0.018)(0.47,0.008)(0.475,0.008)(0.48,0.016)(0.485,0.012)(0.49,0.005)(0.495,0.019)(0.5,0.010)(0.505,0.004)
(0.51,0.014)(0.515,0.015)(0.52,0.006)(0.525,0.002)(0.53,0.012)(0.535,0.017)(0.54,0.004)(0.545,0.007)(0.55,0.015)(0.555,0.019)(0.56,0.009)(0.565,0.005)(0.57,0.013)(0.575,0.016)(0.58,0.006)(0.585,0.003)(0.59,0.011)(0.595,0.018)(0.6,0.014)
(0.6005,-0.004)(0.603,0.002)(0.605,-0.009)
(0.61,-0.005)(0.615,0.001)(0.62,0.004)(0.625,-0.007)(0.63,-0.003)(0.635,0.006)(0.64,0.002)(0.645,-0.002)(0.65,-0.006)(0.655,-0.008)(0.66,0.005)(0.665,0.003)(0.67,-0.002)(0.675,-0.006)(0.68,0.003)(0.685,0.004)(0.69,-0.004)(0.695,-0.007)(0.7,0.002)};
% T4
\addplot[tr] coordinates {(0,-0.008)(0.005,0.004)(0.01,0.003)(0.015,-0.008)(0.02,0.000)(0.025,0.007)(0.03,-0.003)(0.035,-0.010)(0.04,-0.022)(0.045,-0.018)(0.05,-0.010)(0.055,0.001)(0.06,0.006)(0.065,0.009)(0.07,0.000)(0.075,-0.007)(0.08,-0.008)(0.085,0.005)(0.09,0.002)(0.095,-0.002)(0.1,0.007)
(0.1005,0.003)(0.103,0.001)(0.105,-0.002)
(0.11,-0.004)(0.115,0.010)(0.12,0.006)(0.125,0.002)(0.13,-0.001)(0.135,-0.006)(0.14,0.008)(0.145,0.011)(0.15,0.000)(0.155,0.004)(0.16,-0.005)(0.165,-0.003)(0.17,0.007)(0.175,0.012)(0.18,0.002)(0.185,-0.005)(0.19,-0.003)(0.195,0.006)(0.2,0.009)(0.205,-0.002)
(0.21,0.001)(0.215,0.011)(0.22,-0.006)(0.225,0.003)(0.23,0.005)(0.235,-0.006)(0.24,0.010)(0.245,0.009)(0.25,-0.002)(0.255,0.013)(0.26,0.004)(0.265,-0.001)(0.27,-0.005)(0.275,0.007)(0.28,0.008)(0.285,-0.004)(0.29,0.003)(0.295,0.012)(0.3,-0.004)(0.305,0.000)
(0.31,0.007)(0.315,-0.006)(0.32,0.000)(0.325,0.008)(0.33,0.011)(0.335,0.003)(0.34,-0.003)(0.345,0.013)(0.35,0.005)(0.355,-0.004)(0.36,0.009)(0.365,0.010)(0.37,-0.002)(0.375,0.001)(0.38,0.006)(0.385,0.012)(0.39,-0.006)(0.395,-0.003)(0.4,0.004)(0.405,0.006)
(0.41,0.010)(0.415,0.013)(0.42,0.001)(0.425,-0.002)(0.43,-0.004)(0.435,0.009)(0.44,0.008)(0.445,-0.005)(0.45,0.003)(0.455,0.011)(0.46,-0.002)(0.465,0.004)(0.47,0.009)(0.475,-0.003)(0.48,0.002)(0.485,0.012)(0.49,0.011)(0.495,0.002)(0.5,-0.003)(0.505,0.010)
(0.51,0.006)(0.515,-0.005)(0.52,0.000)(0.525,0.013)(0.53,0.010)(0.535,0.001)(0.54,0.004)(0.545,0.008)(0.55,-0.004)(0.555,-0.002)(0.56,0.008)(0.565,0.012)(0.57,0.002)(0.575,0.005)(0.58,0.011)(0.585,-0.004)(0.59,-0.001)(0.595,0.010)(0.6,0.006)
(0.6005,-0.003)(0.603,0.004)(0.605,0.007)
(0.61,-0.002)(0.615,-0.005)(0.62,0.006)(0.625,0.009)(0.63,0.000)(0.635,0.002)(0.64,-0.004)(0.645,-0.006)(0.65,0.003)(0.655,0.005)(0.66,-0.001)(0.665,-0.004)(0.67,0.005)(0.675,0.008)(0.68,-0.003)(0.685,-0.005)(0.69,0.002)(0.695,0.004)(0.7,-0.002)};
% T3
\addplot[tr] coordinates {(0,0.009)(0.005,-0.012)(0.01,-0.005)(0.015,0.006)(0.02,0.003)(0.025,-0.008)(0.03,0.005)(0.035,0.002)(0.04,-0.017)(0.045,-0.024)(0.05,-0.005)(0.055,0.009)(0.06,-0.006)(0.065,0.003)(0.07,0.006)(0.075,-0.011)(0.08,0.003)(0.085,0.010)(0.09,-0.007)(0.095,-0.005)(0.1,0.002)
(0.1005,0.000)(0.103,-0.002)(0.105,0.004)
(0.11,0.003)(0.115,-0.008)(0.12,-0.006)(0.125,0.009)(0.13,0.007)(0.135,0.001)(0.14,-0.002)(0.145,-0.011)(0.15,-0.009)(0.155,0.007)(0.16,0.004)(0.165,-0.006)(0.17,-0.004)(0.175,0.010)(0.18,0.008)(0.185,-0.002)(0.19,-0.007)(0.195,-0.010)(0.2,0.001)(0.205,0.008)
(0.21,-0.003)(0.215,-0.004)(0.22,0.006)(0.225,0.011)(0.23,-0.008)(0.235,-0.009)(0.24,0.002)(0.245,0.004)(0.25,0.009)(0.255,-0.007)(0.26,-0.005)(0.265,0.010)(0.27,0.003)(0.275,-0.011)(0.28,-0.009)(0.285,0.002)(0.29,0.005)(0.295,0.009)(0.3,0.000)(0.305,-0.008)
(0.31,-0.006)(0.315,0.005)(0.32,0.008)(0.325,-0.010)(0.33,-0.003)(0.335,0.008)(0.34,0.004)(0.345,-0.003)(0.35,-0.008)(0.355,0.011)(0.36,0.002)(0.365,-0.007)(0.37,0.007)(0.375,0.003)(0.38,-0.005)(0.385,-0.011)(0.39,0.001)(0.395,0.009)(0.4,-0.009)(0.405,-0.005)
(0.41,0.006)(0.415,0.010)(0.42,-0.002)(0.425,-0.009)(0.43,0.008)(0.435,0.002)(0.44,-0.006)(0.445,0.011)(0.45,0.003)(0.455,-0.008)(0.46,-0.004)(0.465,0.006)(0.47,0.009)(0.475,-0.011)(0.48,-0.007)(0.485,0.008)(0.49,0.000)(0.495,-0.004)(0.5,0.005)(0.505,0.010)
(0.51,-0.008)(0.515,-0.006)(0.52,0.004)(0.525,0.003)(0.53,-0.002)(0.535,-0.010)(0.54,0.007)(0.545,0.009)(0.55,-0.005)(0.555,-0.003)(0.56,0.001)(0.565,0.007)(0.57,-0.009)(0.575,-0.011)(0.58,0.006)(0.585,0.005)(0.59,-0.003)(0.595,-0.008)(0.6,0.002)
(0.6005,-0.002)(0.603,-0.006)(0.605,-0.010)
(0.61,0.005)(0.615,0.008)(0.62,-0.003)(0.625,-0.006)(0.63,0.007)(0.635,0.009)(0.64,-0.005)(0.645,-0.009)(0.65,0.001)(0.655,0.006)(0.66,-0.007)(0.665,-0.008)(0.67,0.004)(0.675,0.008)(0.68,-0.002)(0.685,-0.007)(0.69,0.006)(0.695,0.007)(0.7,-0.004)};
% T2
\addplot[tr] coordinates {(0,-0.002)(0.005,0.010)(0.01,0.007)(0.015,-0.005)(0.02,-0.006)(0.025,0.002)(0.03,0.000)(0.035,-0.012)(0.04,-0.013)(0.045,-0.020)(0.05,-0.018)(0.055,-0.011)(0.06,0.004)(0.065,-0.003)(0.07,-0.007)(0.075,0.008)(0.08,0.005)(0.085,-0.009)(0.09,0.004)(0.095,0.007)(0.1,-0.003)
(0.1005,-0.004)(0.103,-0.006)(0.105,-0.011)
(0.11,-0.010)(0.115,-0.014)(0.12,0.001)(0.125,0.002)(0.13,-0.007)(0.135,-0.004)(0.14,-0.013)(0.145,-0.015)(0.15,-0.002)(0.155,0.001)(0.16,-0.009)(0.165,-0.012)(0.17,0.002)(0.175,-0.003)(0.18,-0.006)(0.185,0.003)(0.19,-0.012)(0.195,-0.014)(0.2,-0.001)(0.205,-0.006)
(0.21,-0.008)(0.215,0.002)(0.22,0.003)(0.225,-0.013)(0.23,-0.004)(0.235,-0.001)(0.24,-0.011)(0.245,-0.015)(0.25,-0.003)(0.255,0.003)(0.26,0.001)(0.265,-0.007)(0.27,-0.010)(0.275,-0.014)(0.28,-0.005)(0.285,0.001)(0.29,-0.013)(0.295,-0.010)(0.3,-0.002)(0.305,-0.015)
(0.31,0.002)(0.315,-0.002)(0.32,-0.008)(0.325,0.002)(0.33,-0.012)(0.335,-0.012)(0.34,-0.004)(0.345,-0.005)(0.35,0.000)(0.355,-0.015)(0.36,-0.009)(0.365,0.001)(0.37,-0.006)(0.375,-0.009)(0.38,0.003)(0.385,-0.003)(0.39,-0.011)(0.395,-0.014)(0.4,-0.003)(0.405,0.003)
(0.41,-0.008)(0.415,-0.006)(0.42,-0.013)(0.425,-0.015)(0.43,-0.001)(0.435,0.000)(0.44,-0.007)(0.445,-0.011)(0.45,0.002)(0.455,-0.004)(0.46,-0.010)(0.465,-0.014)(0.47,-0.004)(0.475,0.002)(0.48,-0.012)(0.485,-0.008)(0.49,-0.002)(0.495,-0.013)(0.5,-0.009)(0.505,-0.002)
(0.51,0.001)(0.515,-0.015)(0.52,-0.006)(0.525,0.001)(0.53,-0.013)(0.535,-0.010)(0.54,-0.003)(0.545,-0.005)(0.55,-0.008)(0.555,-0.014)(0.56,0.002)(0.565,0.003)(0.57,-0.011)(0.575,-0.009)(0.58,-0.005)(0.585,-0.013)(0.59,-0.001)(0.595,-0.002)(0.6,-0.009)
(0.6005,-0.003)(0.603,0.001)(0.605,-0.008)
(0.61,-0.006)(0.615,0.005)(0.62,0.002)(0.625,-0.011)(0.63,-0.004)(0.635,0.001)(0.64,0.004)(0.645,-0.007)(0.65,-0.002)(0.655,0.006)(0.66,0.003)(0.665,-0.009)(0.67,-0.005)(0.675,0.003)(0.68,0.001)(0.685,-0.006)(0.69,-0.003)(0.695,0.000)(0.7,0.004)};
% T1
\addplot[tr] coordinates {(0,0.000)(0.005,-0.008)(0.01,-0.003)(0.015,0.009)(0.02,0.008)(0.025,-0.003)(0.03,-0.007)(0.035,0.005)(0.04,-0.020)(0.045,-0.026)(0.05,-0.008)(0.055,-0.015)(0.06,0.009)(0.065,0.002)(0.07,0.003)(0.075,-0.009)(0.08,-0.004)(0.085,0.011)(0.09,0.008)(0.095,-0.006)(0.1,-0.001)
(0.1005,-0.008)(0.103,-0.010)(0.105,-0.015)
(0.11,-0.012)(0.115,-0.006)(0.12,-0.004)(0.125,-0.018)(0.13,-0.015)(0.135,-0.010)(0.14,-0.007)(0.145,-0.004)(0.15,-0.001)(0.155,-0.017)(0.16,-0.011)(0.165,-0.008)(0.17,-0.016)(0.175,-0.019)(0.18,-0.005)(0.185,-0.002)(0.19,-0.009)(0.195,-0.012)(0.2,-0.014)(0.205,-0.018)
(0.21,-0.003)(0.215,-0.005)(0.22,-0.010)(0.225,-0.011)(0.23,-0.017)(0.235,-0.019)(0.24,-0.006)(0.245,-0.003)(0.25,-0.012)(0.255,-0.016)(0.26,-0.002)(0.265,-0.009)(0.27,-0.008)(0.275,-0.020)(0.28,-0.015)(0.285,-0.007)(0.29,-0.004)(0.295,-0.014)(0.3,-0.011)(0.305,-0.001)
(0.31,-0.007)(0.315,-0.018)(0.32,-0.016)(0.325,-0.008)(0.33,-0.003)(0.335,-0.015)(0.34,-0.010)(0.345,-0.005)(0.35,-0.013)(0.355,-0.019)(0.36,-0.005)(0.365,-0.010)(0.37,-0.018)(0.375,-0.003)(0.38,-0.008)(0.385,-0.017)(0.39,-0.002)(0.395,-0.007)(0.4,-0.012)(0.405,-0.015)
(0.41,-0.006)(0.415,-0.002)(0.42,-0.014)(0.425,-0.019)(0.43,-0.009)(0.435,-0.011)(0.44,-0.003)(0.445,-0.006)(0.45,-0.016)(0.455,-0.018)(0.46,-0.007)(0.465,-0.004)(0.47,-0.011)(0.475,-0.014)(0.48,-0.004)(0.485,-0.009)(0.49,-0.013)(0.495,-0.020)(0.5,-0.008)(0.505,-0.006)
(0.51,-0.017)(0.515,-0.013)(0.52,-0.005)(0.525,-0.003)(0.53,-0.010)(0.535,-0.018)(0.54,-0.014)(0.545,-0.008)(0.55,-0.002)(0.555,-0.016)(0.56,-0.009)(0.565,-0.001)(0.57,-0.015)(0.575,-0.012)(0.58,-0.006)(0.585,-0.018)(0.59,-0.012)(0.595,-0.007)(0.6,-0.004)
(0.6005,-0.004)(0.603,-0.008)(0.605,-0.011)
(0.61,0.003)(0.615,0.006)(0.62,-0.005)(0.625,-0.009)(0.63,0.002)(0.635,0.005)(0.64,-0.007)(0.645,-0.010)(0.65,0.004)(0.655,0.007)(0.66,-0.004)(0.665,-0.008)(0.67,0.001)(0.675,0.004)(0.68,-0.006)(0.685,-0.010)(0.69,0.003)(0.695,0.006)(0.7,-0.003)};
\end{axis}
\node[anchor=base west, inner sep=0pt, font=\fontsize{11}{13}\selectfont\bfseries] at (87.85,288.65) {Kv12.3\ \ Rat\ \ CHO\ \ 15 °C};
\node[anchor=base west, inner sep=0pt, font=\fontsize{10.9}{13}\selectfont] at (364.15,288.65) {Activation};
\node[rotate=90, anchor=base, inner sep=0pt, font=\fontsize{10.9}{13}\selectfont] at (428.35,168.75) {BBP Channelpedia ID 16614 rep 2};
\node[anchor=base, inner sep=0pt, font=\fontsize{16.4}{19}\selectfont, text=cgray] at (247.9,4.5) {t [s]};
\node[rotate=90, anchor=base, inner sep=0pt, font=\fontsize{16.4}{19}\selectfont, text=cgray] at (16.35,168.25) {I [nA]};
\end{tikzpicture}
\end{document}
